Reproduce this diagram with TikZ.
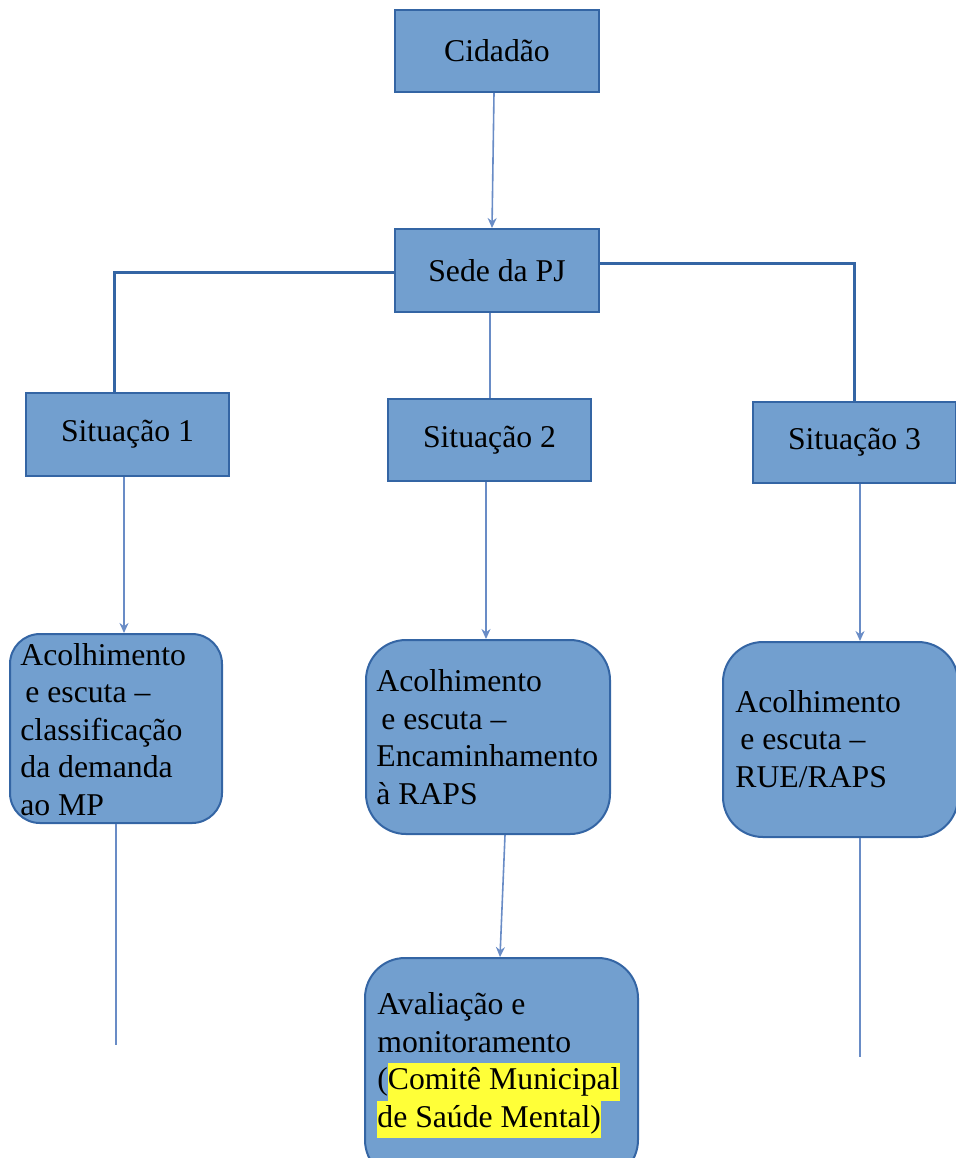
\documentclass[tikz,border=0pt]{standalone}
\usepackage{fontspec}
\setmainfont{Liberation Serif}
\usetikzlibrary{arrows.meta,calc}
\definecolor{boxfill}{RGB}{114,159,207}
\definecolor{boxdraw}{RGB}{52,101,164}
\definecolor{thinline}{RGB}{105,140,198}
\definecolor{hlyellow}{RGB}{255,255,56}
\newcommand\hlt[1]{{\fboxsep=0pt\colorbox{hlyellow}{\strut #1}}}
\begin{document}
\begin{tikzpicture}[x=0.5pt,y=-0.5pt,
  font=\fontsize{15.85}{18.75}\selectfont,
  sq/.style={draw=boxdraw, line width=1pt, fill=boxfill, inner sep=0pt},
  rbox/.style={sq, rounded corners=18pt},
  txt/.style={align=left, inner sep=0pt, anchor=base west},
  thinl/.style={draw=thinline, line width=0.8pt},
  thinarrow/.style={thinl, -{Stealth[length=5pt,width=4.5pt]}},
  thickl/.style={draw=boxdraw, line width=1.5pt}]
\useasboundingbox (0,0) rectangle (956,1158);
\clip (0,0) rectangle (956,1158);

% rectangular boxes
\node[sq, minimum width=102pt, minimum height=41pt] (cid) at (497,51) {Cidadão};
\node[sq, minimum width=102pt, minimum height=41.5pt] (sede) at (497,270.5) {Sede da PJ};
\node[sq, minimum width=101.5pt, minimum height=41.5pt] (sit1) at (127.5,434.5) {Situação 1};
\node[sq, minimum width=101.5pt, minimum height=41pt] (sit2) at (489.5,440) {Situação 2};
\node[sq, minimum width=101.5pt, minimum height=40.5pt] (sit3) at (854.5,442.5) {Situação 3};

% rounded boxes
\node[rbox, rounded corners=15pt, minimum width=106pt, minimum height=94.5pt] (box1) at (116,728.5) {};
\node[rbox, rounded corners=20pt, minimum width=122pt, minimum height=97pt] (box2) at (488,737) {};
\node[rbox, rounded corners=20pt, minimum width=136.5pt, minimum height=111pt] (box3) at (501.5,1069) {};
\node[rbox, rounded corners=20pt, minimum width=117.5pt, minimum height=97.5pt] (box4) at (840.5,739.5) {};

% texts of rounded boxes (anchor = baseline of last line)
\node[txt] (t1) at (20,815) {Acolhimento\\\kern2.5pt e escuta –\\classificação\\da demanda\\ao MP};
\node[txt] (t2) at (376,804) {Acolhimento\\\kern2.5pt e escuta –\\Encaminhamento\\à RAPS};
\node[txt] (t3) at (377,1127) {Avaliação e\\monitoramento\\(\hlt{Comitê Municipal}\\\hlt{de Saúde Mental)}};
\node[txt] (t4) at (735,787) {Acolhimento\\\kern2.5pt e escuta –\\RUE/RAPS};

% connectors
\coordinate (j1) at (114,272);
\coordinate (j3) at (854,263);
\coordinate (e1) at (116,1045);
\coordinate (e4) at (860,1057);

\draw[thinarrow] ([xshift=-1.5pt]cid.south) -- ([xshift=-2.5pt]sede.north);
\draw[thickl] (sede.west |- j1) -- (j1) -- (j1 |- sit1.north);
\draw[thickl] (sede.east |- j3) -- (j3) -- (j3 |- sit3.north);
\draw[thinl, line width=1pt] (sede.south -| sit2.north) -- (sit2.north);

\draw[thinarrow] ([xshift=-1.75pt]sit1.south) -- ([xshift=-1.75pt]sit1.south |- box1.north);
\draw[thinarrow] ([xshift=-1.75pt]sit2.south) -- ([xshift=-1.75pt]sit2.south |- box2.north);
\draw[thinarrow] ([xshift=2.75pt]sit3.south) -- ([xshift=2.75pt]sit3.south |- box4.north);
\draw[thinarrow] ([xshift=8.5pt]box2.south) -- ([xshift=-0.75pt]box3.north);

\draw[thinl] (box1.south) -- (e1);
\draw[thinl] (box4.south -| e4) -- (e4);
\end{tikzpicture}
\end{document}
